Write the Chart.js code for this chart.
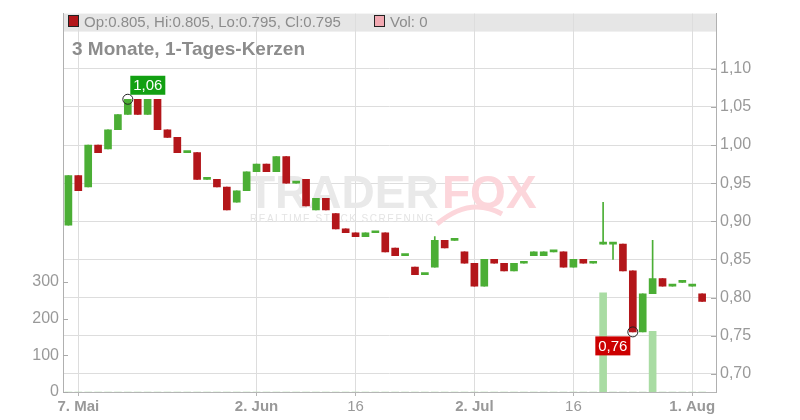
<!DOCTYPE html>
<html>
<head>
<meta charset="utf-8">
<script src="https://cdn.jsdelivr.net/npm/chart.js@4.4.1/dist/chart.umd.min.js"></script>
<style>
  html, body { margin: 0; padding: 0; background: #fff; }
  #chartBox { width: 800px; height: 420px; }
</style>
</head>
<body>
<div id="chartBox"><canvas id="kursChart" width="800" height="420"></canvas></div>
<script>
// Tageskerzen 6. Mai - 4. Aug (one entry per trading day)
const openValues = [
  0.895, 0.96, 0.945, 1.00, 0.995, 1.02, 1.04, 1.06, 1.04, 1.06,
  1.02, 1.01, 0.99, 0.99, 0.955, 0.955, 0.945, 0.925, 0.94, 0.965,
  0.975, 0.965, 0.985, 0.95, 0.955, 0.915, 0.93, 0.91, 0.89, 0.885,
  0.88, 0.885, 0.885, 0.865, 0.855, 0.84, 0.83, 0.84, 0.875, 0.875,
  0.86, 0.845, 0.815, 0.85, 0.845, 0.835, 0.845, 0.855, 0.855, 0.86,
  0.86, 0.84, 0.85, 0.845, 0.87, 0.87, 0.87, 0.835, 0.755, 0.805,
  0.825, 0.815, 0.82, 0.815, 0.805
];
const highValues = [
  0.96, 0.96, 1.00, 1.00, 1.02, 1.04, 1.06, 1.06, 1.06, 1.06,
  1.02, 1.01, 0.99, 0.99, 0.955, 0.955, 0.945, 0.94, 0.965, 0.975,
  0.975, 0.985, 0.985, 0.95, 0.955, 0.93, 0.93, 0.91, 0.89, 0.885,
  0.885, 0.885, 0.885, 0.865, 0.855, 0.84, 0.83, 0.88, 0.875, 0.875,
  0.86, 0.845, 0.85, 0.85, 0.845, 0.845, 0.845, 0.86, 0.86, 0.86,
  0.86, 0.85, 0.85, 0.845, 0.925, 0.87, 0.87, 0.835, 0.805, 0.875,
  0.825, 0.815, 0.82, 0.815, 0.805
];
const lowValues = [
  0.895, 0.94, 0.945, 0.99, 0.995, 1.02, 1.04, 1.04, 1.04, 1.02,
  1.01, 0.99, 0.99, 0.955, 0.955, 0.945, 0.915, 0.925, 0.94, 0.965,
  0.965, 0.965, 0.95, 0.95, 0.92, 0.915, 0.915, 0.89, 0.885, 0.88,
  0.88, 0.885, 0.86, 0.855, 0.855, 0.83, 0.83, 0.84, 0.865, 0.875,
  0.845, 0.815, 0.815, 0.845, 0.835, 0.835, 0.845, 0.855, 0.855, 0.86,
  0.84, 0.84, 0.845, 0.845, 0.87, 0.85, 0.835, 0.755, 0.755, 0.805,
  0.815, 0.815, 0.82, 0.815, 0.795
];
const closeValues = [
  0.96, 0.94, 1.00, 0.99, 1.02, 1.04, 1.06, 1.04, 1.06, 1.02,
  1.01, 0.99, 0.99, 0.955, 0.955, 0.945, 0.915, 0.94, 0.965, 0.975,
  0.965, 0.985, 0.95, 0.95, 0.92, 0.93, 0.915, 0.89, 0.885, 0.88,
  0.885, 0.885, 0.86, 0.855, 0.855, 0.83, 0.83, 0.875, 0.865, 0.875,
  0.845, 0.815, 0.85, 0.845, 0.835, 0.845, 0.845, 0.86, 0.86, 0.86,
  0.84, 0.85, 0.845, 0.845, 0.87, 0.87, 0.835, 0.755, 0.805, 0.825,
  0.815, 0.815, 0.82, 0.815, 0.795
];
const volumeValues = [
  0, 0, 0, 0, 0, 0, 0, 0, 0, 0,
  0, 0, 0, 0, 0, 0, 0, 0, 0, 0,
  0, 0, 0, 0, 0, 0, 0, 0, 0, 0,
  0, 0, 0, 0, 0, 0, 0, 0, 0, 0,
  0, 0, 0, 0, 0, 0, 0, 0, 0, 0,
  0, 0, 0, 0, 270, 0, 0, 0, 0, 165,
  0, 0, 0, 0, 0
];

// x axis ticks (index of trading day)
const dateTickIndex = [1, 19, 29, 41, 51, 63];
const dateTickLabels = ['7. Mai', '2. Jun', '16', '2. Jul', '16', '1. Aug'];
const dateTickBold = [true, true, false, true, false, true];

const priceTicks = [0.70, 0.75, 0.80, 0.85, 0.90, 0.95, 1.00, 1.05, 1.10];
const volumeTicks = [0, 100, 200, 300];

const titleText = '3 Monate, 1-Tages-Kerzen';

const greenColor = '#4bae35';
const redColor = '#b3161a';
const volumeColor = '#a9dca3';
const textGrey = '#999999';
const gridGrey = '#dddddd';
const fontFamily = '"Liberation Sans", Arial, Helvetica, sans-serif';

Chart.defaults.font.family = fontFamily;

function candleColor(i) {
  return closeValues[i] >= openValues[i] ? greenColor : redColor;
}

function formatPrice(value) {
  return (Math.round(value * 100) / 100).toFixed(2).replace('.', ',');
}

// draws the little value box next to the high / low marker
function drawValueBox(ctx, x, y, text, fill) {
  const w = 35;
  const h = 19;
  ctx.fillStyle = fill;
  ctx.fillRect(x, y, w, h);
  ctx.fillStyle = '#ffffff';
  ctx.font = '15px ' + fontFamily;
  ctx.textAlign = 'center';
  ctx.textBaseline = 'middle';
  ctx.fillText(text, x + w / 2, y + h / 2 + 1);
}

const chartDecor = {
  id: 'chartDecor',
  beforeDraw(chart) {
    const { ctx, chartArea } = chart;
    ctx.save();
    ctx.fillStyle = '#e6e6e6';
    ctx.fillRect(chartArea.left, chartArea.top, chartArea.right - chartArea.left, 18);
    ctx.restore();
  },
  beforeDatasetsDraw(chart) {
    // TraderFox watermark
    const { ctx } = chart;
    ctx.save();
    ctx.font = 'bold 46px ' + fontFamily;
    ctx.textBaseline = 'alphabetic';
    ctx.fillStyle = '#e9e9e9';
    ctx.fillText('TRADER', 247, 208);
    ctx.fillStyle = '#fcd6db';
    ctx.fillText('FOX', 442, 208);
    ctx.strokeStyle = '#fcd6db';
    ctx.lineWidth = 5;
    ctx.beginPath();
    ctx.moveTo(437, 224);
    ctx.quadraticCurveTo(470, 196, 502, 214);
    ctx.stroke();
    ctx.font = '10px ' + fontFamily;
    ctx.letterSpacing = '1.5px';
    ctx.fillStyle = '#e4e4e4';
    ctx.fillText('REALTIME STOCK SCREENING', 250, 222);
    ctx.restore();
  },
  afterDatasetsDraw(chart) {
    const { ctx, scales } = chart;
    const maxHigh = Math.max(...highValues);
    const minLow = Math.min(...lowValues);
    const hiIdx = highValues.indexOf(maxHigh);
    const loIdx = lowValues.indexOf(minLow);

    ctx.save();
    const hx = scales.x.getPixelForValue(hiIdx);
    const hy = scales.y.getPixelForValue(maxHigh);
    drawValueBox(ctx, hx + 2.5, hy - 23.5, formatPrice(maxHigh), '#12a012');

    const lx = scales.x.getPixelForValue(loIdx);
    const ly = scales.y.getPixelForValue(minLow);
    drawValueBox(ctx, lx - 37.5, ly + 4.5, formatPrice(minLow), '#cc0000');
    ctx.restore();
  },
  afterDraw(chart) {
    const { ctx, chartArea, scales } = chart;
    const last = closeValues.length - 1;
    ctx.save();

    // legend line in the grey band
    ctx.fillStyle = redColor;
    ctx.fillRect(69, 16, 9, 10);
    ctx.strokeStyle = '#222';
    ctx.lineWidth = 1;
    ctx.strokeRect(68.5, 15.5, 10, 11);
    ctx.font = '15px ' + fontFamily;
    ctx.textAlign = 'left';
    ctx.textBaseline = 'alphabetic';
    ctx.fillStyle = '#8c8c8c';
    const legendText = 'Op:' + openValues[last].toFixed(3) + ', Hi:' + highValues[last].toFixed(3) +
      ', Lo:' + lowValues[last].toFixed(3) + ', Cl:' + closeValues[last].toFixed(3);
    ctx.fillText(legendText, 84, 26.5);

    ctx.fillStyle = '#f2a9b2';
    ctx.fillRect(375, 16, 9, 10);
    ctx.strokeRect(374.5, 15.5, 10, 11);
    ctx.fillStyle = '#8c8c8c';
    ctx.fillText('Vol: ' + volumeValues[last], 390, 26.5);

    // chart title
    ctx.font = 'bold 19px ' + fontFamily;
    ctx.fillStyle = '#8c8c8c';
    ctx.fillText(titleText, 72, 54.5);

    // inward tick marks on both y axes
    ctx.strokeStyle = '#aaaaaa';
    ctx.beginPath();
    priceTicks.forEach((v) => {
      const y = Math.round(scales.y.getPixelForValue(v)) + 0.5;
      ctx.moveTo(chartArea.right - 5, y);
      ctx.lineTo(chartArea.right, y);
    });
    volumeTicks.forEach((v) => {
      const y = Math.round(scales.yVol.getPixelForValue(v)) + 0.5;
      ctx.moveTo(chartArea.left, y);
      ctx.lineTo(chartArea.left + 5, y);
    });
    ctx.stroke();
    ctx.restore();
  }
};

function buildChart() {
  const ctx = document.getElementById('kursChart').getContext('2d');

  const bodyData = openValues.map((o, i) => ({ x: i, y: [o, closeValues[i]] }));
  const wickData = lowValues.map((l, i) => ({ x: i, y: [l, highValues[i]] }));
  const volumeData = volumeValues.map((v, i) => ({ x: i, y: v }));
  const colors = openValues.map((o, i) => candleColor(i));

  const maxHigh = Math.max(...highValues);
  const minLow = Math.min(...lowValues);
  const markerData = [
    { x: highValues.indexOf(maxHigh), y: maxHigh },
    { x: lowValues.indexOf(minLow), y: minLow }
  ];

  new Chart(ctx, {
    type: 'bar',
    data: {
      datasets: [
        {
          type: 'scatter',
          data: markerData,
          yAxisID: 'y',
          pointRadius: 5,
          pointBorderWidth: 1,
          borderColor: '#222',
          backgroundColor: 'rgba(0,0,0,0)',
          order: -1
        },
        {
          data: bodyData,
          yAxisID: 'y',
          backgroundColor: colors,
          barThickness: 7,
          minBarLength: 2,
          grouped: false,
          order: 0
        },
        {
          data: wickData,
          yAxisID: 'y',
          backgroundColor: colors,
          barThickness: 1,
          grouped: false,
          order: 1
        },
        {
          data: volumeData,
          yAxisID: 'yVol',
          backgroundColor: volumeColor,
          barThickness: 7,
          grouped: false,
          order: 2
        }
      ]
    },
    options: {
      responsive: false,
      animation: false,
      layout: { padding: { top: 11, left: 0, right: 0, bottom: 0 } },
      plugins: {
        legend: { display: false },
        tooltip: { enabled: false }
      },
      scales: {
        x: {
          type: 'linear',
          min: -0.545,
          max: 65.4,
          offset: false,
          grid: { color: gridGrey, offset: false, drawTicks: true, tickLength: 4, tickColor: '#b5b5b5' },
          border: { color: '#b5b5b5' },
          afterBuildTicks: (scale) => {
            scale.ticks = dateTickIndex.map((v) => ({ value: v }));
          },
          afterFit: (scale) => { scale.height = 28; },
          ticks: {
            autoSkip: false,
            maxRotation: 0,
            padding: 2,
            color: textGrey,
            font: (c) => ({ size: 15, weight: dateTickBold[c.index] ? 'bold' : 'normal' }),
            callback: (value, index) => dateTickLabels[index]
          }
        },
        y: {
          type: 'linear',
          position: 'right',
          min: 0.6762,
          max: 1.1723,
          bounds: 'data',
          grid: { color: gridGrey, drawTicks: false },
          border: { color: '#b0b0b0' },
          afterBuildTicks: (scale) => {
            scale.ticks = priceTicks.map((v) => ({ value: v }));
          },
          afterFit: (scale) => { scale.width = 84; },
          ticks: {
            padding: 4,
            color: textGrey,
            font: { size: 16 },
            callback: (value) => formatPrice(value)
          }
        },
        yVol: {
          type: 'linear',
          position: 'left',
          min: 0,
          max: 1030,
          bounds: 'data',
          grid: { display: false, drawTicks: false },
          border: { display: true, color: '#b0b0b0' },
          afterBuildTicks: (scale) => {
            scale.ticks = volumeTicks.map((v) => ({ value: v }));
          },
          afterFit: (scale) => { scale.width = 63; },
          ticks: {
            padding: 4,
            color: textGrey,
            font: { size: 16 },
            callback: (value) => String(value)
          }
        }
      }
    },
    plugins: [chartDecor]
  });
}

document.addEventListener('DOMContentLoaded', () => {
  buildChart();
});
</script>
</body>
</html>
